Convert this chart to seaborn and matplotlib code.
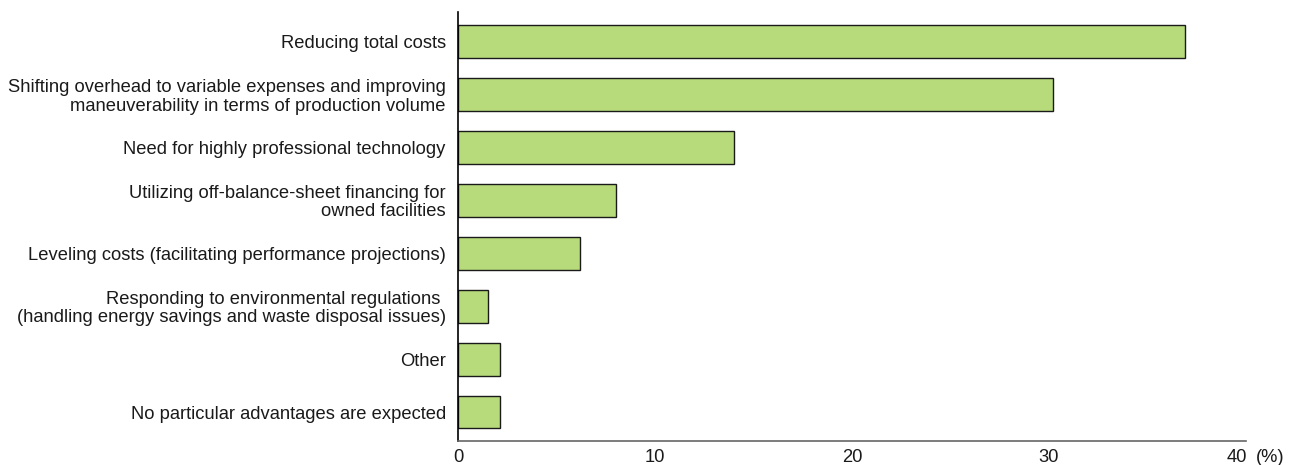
import matplotlib
matplotlib.use("Agg")
import matplotlib.pyplot as plt
import seaborn as sns
import pandas as pd

categories = [
    "Reducing total costs",
    "Shifting overhead to variable expenses and improving\nmaneuverability in terms of production volume",
    "Need for highly professional technology",
    "Utilizing off-balance-sheet financing for\nowned facilities",
    "Leveling costs (facilitating performance projections)",
    "Responding to environmental regulations \n(handling energy savings and waste disposal issues)",
    "Other",
    "No particular advantages are expected",
]
values = [36.9, 30.2, 14.0, 8.0, 6.2, 1.5, 2.1, 2.1]
xticks = [0, 10, 20, 30, 40]
unit_label = "(%)"

df = pd.DataFrame({"category": categories, "value": values})

sns.set_theme(style="white")
plt.rcParams["font.family"] = ["Liberation Sans", "DejaVu Sans"]

FS = 13.2

fig = plt.figure(figsize=(12.96, 4.65), dpi=100)
ax = fig.add_axes([0.3536, 0.0523, 0.6076, 0.9217])

sns.barplot(data=df, y="category", x="value", orient="h", color="#b7da7a",
            edgecolor="#1a1a1a", linewidth=1.0, width=0.62, saturation=1, ax=ax)

ax.set_xlim(0, 40)
ax.set_ylim(7.54, -0.55)
ax.set_xticks(xticks)
ax.set_xticklabels([str(t) for t in xticks[:-1]] + [""], fontsize=FS, color="#1a1a1a")
ax.set_xlabel("")
ax.set_ylabel("")
ax.tick_params(axis="y", length=0, pad=9, labelsize=FS, labelcolor="#1a1a1a")
ax.tick_params(axis="x", length=3, direction="in", color="#666666", width=1, pad=6)
for lab in ax.get_yticklabels():
    lab.set_horizontalalignment("right")
    lab.set_multialignment("right")
    lab.set_linespacing(1.1)

for s in ["top", "right"]:
    ax.spines[s].set_visible(False)
ax.spines["left"].set_color("#000000")
ax.spines["left"].set_linewidth(1.2)
ax.spines["bottom"].set_color("#666666")
ax.spines["bottom"].set_linewidth(1.2)

# last tick label with unit
ax.annotate(str(xticks[-1]), xy=(xticks[-1], 0), xycoords=("data", "axes fraction"),
            xytext=(1, -6), textcoords="offset points", ha="right", va="top",
            fontsize=FS, color="#1a1a1a")
ax.annotate(unit_label, xy=(xticks[-1], 0), xycoords=("data", "axes fraction"),
            xytext=(7, -6), textcoords="offset points", ha="left", va="top",
            fontsize=FS, color="#1a1a1a")

fig.savefig("out.png", dpi=100)
